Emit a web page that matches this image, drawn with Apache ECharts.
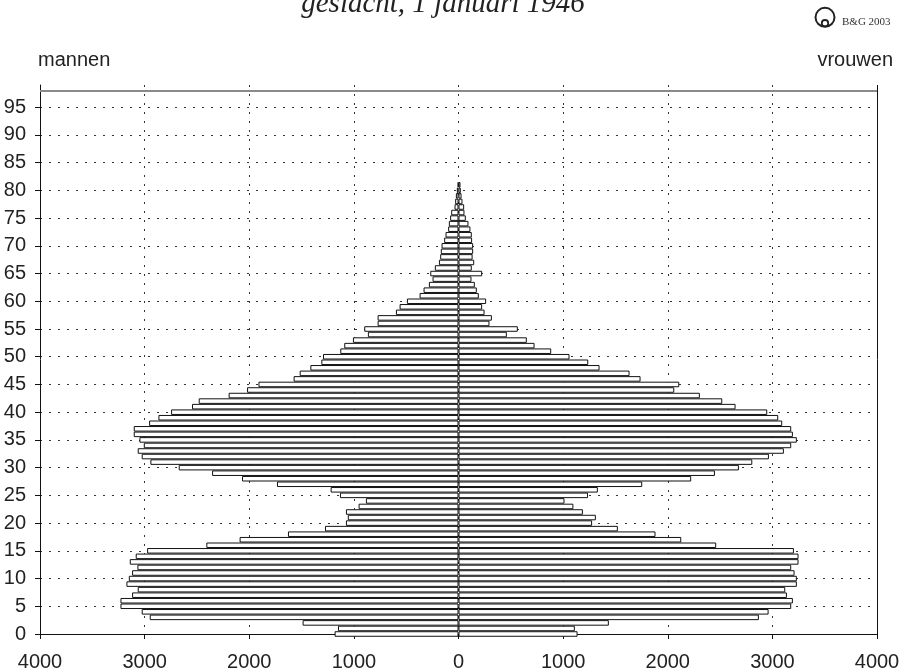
<!DOCTYPE html>
<html>
<head>
<meta charset="utf-8">
<script src="https://cdn.jsdelivr.net/npm/echarts@6/dist/echarts.min.js"></script>
<style>html,body{margin:0;padding:0;background:#fff}#c{width:903px;height:672px}</style>
</head>
<body>
<div id="c"></div>
<script>
// Age categories (one-year ages, axis runs to 99)
const ages = ['0','1','2','3','4','5','6','7','8','9','10','11','12','13','14','15','16','17','18','19',
  '20','21','22','23','24','25','26','27','28','29','30','31','32','33','34','35','36','37','38','39',
  '40','41','42','43','44','45','46','47','48','49','50','51','52','53','54','55','56','57','58','59',
  '60','61','62','63','64','65','66','67','68','69','70','71','72','73','74','75','76','77','78','79',
  '80','81','82','83','84','85','86','87','88','89','90','91','92','93','94','95','96','97','98','99'];

// Men per age 0..81
const mannen = [1184,1152,1490,2951,3028,3231,3231,3120,3066,3174,
  3151,3120,3069,3142,3085,2976,2410,2092,1630,1276,
  1076,1058,1076,955,885,1133,1222,1735,2069,2355,
  2674,2945,3028,3066,3008,3050,3104,3104,2957,2868,
  2747,2547,2483,2197,2021,1912,1576,1518,1416,1311,
  1295,1130,1092,1009,866,901,773,773,598,563,
  493,372,334,283,248,270,226,187,175,169,
  162,137,124,99,92,80,70,38,32,25,
  16,6];

// Women per age 0..81
const vrouwen = [1138,1112,1437,2871,2964,3180,3196,3139,3123,3234,
  3234,3212,3180,3250,3250,3206,2463,2129,1883,1523,
  1277,1313,1189,1098,1013,1238,1332,1756,2224,2451,
  2680,2808,2967,3110,3180,3234,3196,3180,3094,3056,
  2951,2648,2521,2307,2062,2110,1740,1635,1348,1240,
  1061,886,727,653,462,567,296,319,249,226,
  264,194,175,156,124,226,127,150,135,140,
  140,130,127,114,95,70,57,54,38,29,
  22,19];

const titleText = 'geslacht, 1 januari 1946';
const leftLabel = 'mannen';
const rightLabel = 'vrouwen';
const logoText = 'B&G 2003';
const topLineAge = '98';
const xMax = 4000;

const chart = echarts.init(document.getElementById('c'), null, {renderer: 'canvas'});

const dotted = {color: '#333', width: 1, type: [2, 7]};
const barStyle = {color: '#ffffff', borderColor: '#111', borderWidth: 1};
const font = 'Liberation Sans';

chart.setOption({
  animation: false,
  backgroundColor: '#ffffff',
  grid: {left: 40, right: 26, top: 85, bottom: 35.3, containLabel: false},
  xAxis: {
    type: 'value', min: -xMax, max: xMax, interval: 1000,
    axisLine: {show: true, lineStyle: {color: '#111', width: 1}},
    axisTick: {show: true, length: 5, lineStyle: {color: '#111'}},
    axisLabel: {
      margin: 18, color: '#222', fontFamily: font, fontSize: 20,
      formatter: v => String(Math.abs(v))
    },
    splitLine: {show: true, showMinLine: false, showMaxLine: false, lineStyle: dotted}
  },
  yAxis: {
    type: 'category', data: ages, boundaryGap: false,
    axisLine: {show: true, onZero: false, lineStyle: {color: '#111', width: 1}},
    axisTick: {show: true, length: 5, interval: 4, lineStyle: {color: '#111'}},
    axisLabel: {interval: 4, margin: 14, color: '#222', fontFamily: font, fontSize: 20},
    splitLine: {show: true, interval: 4, lineStyle: dotted}
  },
  series: [
    {
      name: leftLabel, type: 'bar', clip: false, silent: true,
      barGap: '-100%', barCategoryGap: 0,
      data: mannen.map(v => -v),
      itemStyle: barStyle
    },
    {
      name: rightLabel, type: 'bar', clip: false, silent: true,
      barGap: '-100%', barCategoryGap: 0,
      data: vrouwen,
      itemStyle: barStyle,
      markLine: {
        silent: true, symbol: 'none', label: {show: false},
        data: [
          {yAxis: topLineAge, lineStyle: {color: '#8a8a8a', width: 2, type: 'solid'}},
          {xAxis: xMax, lineStyle: {color: '#111', width: 1, type: 'solid'}}
        ]
      }
    }
  ],
  graphic: [
    {type: 'text', x: 443, y: 4.5, silent: true,
     style: {text: titleText, font: 'italic 29px "Liberation Serif"', fill: '#222', align: 'center', verticalAlign: 'middle'}},
    {type: 'text', x: 38, y: 60, silent: true,
     style: {text: leftLabel, font: '20px "Liberation Sans"', fill: '#222', align: 'left', verticalAlign: 'middle'}},
    {type: 'text', x: 893, y: 60, silent: true,
     style: {text: rightLabel, font: '20px "Liberation Sans"', fill: '#222', align: 'right', verticalAlign: 'middle'}},
    {type: 'circle', silent: true, shape: {cx: 825, cy: 17.3, r: 9.5},
     style: {fill: 'none', stroke: '#222', lineWidth: 2}},
    {type: 'circle', silent: true, shape: {cx: 825, cy: 23.2, r: 3.2},
     style: {fill: 'none', stroke: '#222', lineWidth: 1.8}},
    {type: 'text', x: 842, y: 22.4, silent: true,
     style: {text: logoText, font: '11px "Liberation Serif"', fill: '#333', align: 'left', verticalAlign: 'middle'}}
  ]
});
</script>
</body>
</html>
